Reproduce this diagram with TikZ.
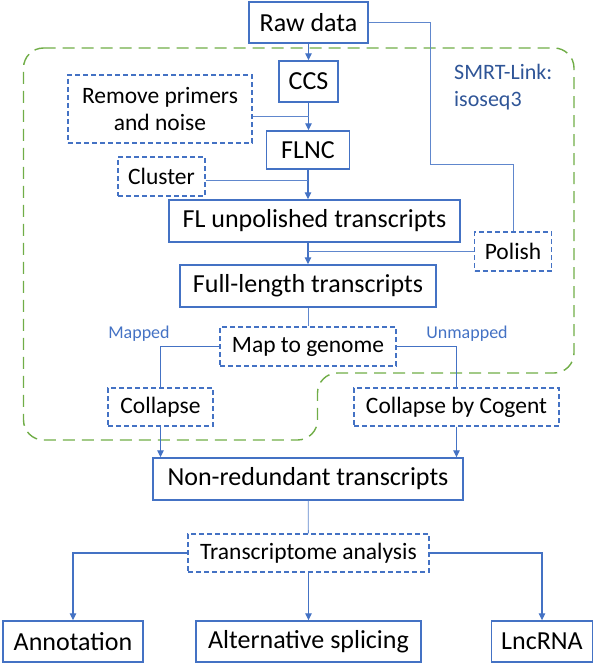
\documentclass[tikz,border=0pt]{standalone}
\usepackage{fontspec}
\setmainfont{Carlito}
\usetikzlibrary{arrows.meta}

\definecolor{boxblue}{RGB}{68,114,196}
\definecolor{smrtgreen}{RGB}{112,173,71}
\definecolor{smrtblue}{RGB}{47,85,151}

\begin{document}
\begin{tikzpicture}[x=1bp, y=-1bp, >={Triangle[length=7bp,width=6.5bp]},
	solidbox/.style={draw=boxblue, line width=1.4bp, rectangle, inner sep=0pt, font=\fontsize{26bp}{30bp}\selectfont},
	dashbox/.style={draw=boxblue, line width=1.2bp, dash pattern=on 5bp off 3bp, rectangle, inner sep=0pt, align=center, font=\fontsize{23.5bp}{27bp}\selectfont},
	link/.style={draw=boxblue, line width=1.1bp},
	thinlink/.style={draw=boxblue!85, line width=0.8bp},
	tag/.style={text=boxblue, inner sep=0pt, font=\fontsize{18bp}{21bp}\selectfont},
	smrtframe/.style={draw=smrtgreen, line width=1.4bp, dash pattern=on 12bp off 7bp, rounded corners=20bp}]

	\useasboundingbox (0,0) rectangle (595,665);

	% SMRT-Link frame
	\draw[smrtframe] (23.5,48) -- (574,48) -- (574,373) -- (317.5,373) -- (317.5,440) -- (23.5,440) -- cycle;
	\node[text=smrtblue, inner sep=0pt, anchor=north west, align=left, font=\fontsize{22bp}{27bp}\selectfont] (smrt) at (454,64) {SMRT-Link:\\isoseq3};

	\node[solidbox, minimum width=119bp, minimum height=41bp] (raw) at (308.5,22.5) {Raw data};
	\node[solidbox, minimum width=59bp, minimum height=41bp] (ccs) at (308.5,81.5) {CCS};
	\node[dashbox, minimum width=184bp, minimum height=68bp] (remove) at (160,109) {Remove primers\\and noise};
	\node[solidbox, minimum width=83bp, minimum height=38bp] (flnc) at (308,150) {FLNC};
	\node[dashbox, minimum width=87bp, minimum height=39bp] (cluster) at (161.5,176.5) {Cluster};
	\node[solidbox, minimum width=291bp, minimum height=42bp] (flu) at (314.5,221) {FL unpolished transcripts};
	\node[dashbox, minimum width=77bp, minimum height=39bp] (polish) at (513,251.5) {Polish};
	\node[solidbox, minimum width=256bp, minimum height=42bp] (full) at (308,286) {Full-length transcripts};
	\node[dashbox, minimum width=176bp, minimum height=39bp] (map) at (308,346.5) {Map to genome};
	\node[tag] (mapped) at (139,334) {Mapped};
	\node[tag] (unmapped) at (467,334) {Unmapped};
	\node[dashbox, minimum width=105bp, minimum height=38bp] (collapse) at (160.5,407) {Collapse};
	\node[dashbox, minimum width=205bp, minimum height=38bp] (cogent) at (456.5,407) {Collapse by Cogent};
	\node[solidbox, minimum width=310bp, minimum height=42bp] (nonred) at (308,479) {Non-redundant transcripts};
	\node[dashbox, minimum width=241bp, minimum height=38bp] (trans) at (308.5,553) {Transcriptome analysis};
	\node[solidbox, minimum width=140bp, minimum height=41bp] (annot) at (73,641.5) {Annotation};
	\node[solidbox, minimum width=225bp, minimum height=41bp] (alt) at (308.5,641.5) {Alternative splicing};
	\node[solidbox, minimum width=101bp, minimum height=41bp] (lnc) at (542,641.5) {LncRNA};

	\coordinate (rawbend) at (430,164);
	\coordinate (rm) at ([yshift=-7bp]remove.east);
	\coordinate (cl) at ([yshift=-3.5bp]cluster.east);

	\draw[link, ->] (raw) -- (ccs);
	\draw[link, ->] (ccs.south) -- (ccs.south |- flnc.north);
	\draw[thinlink] (rm) -- (rm -| ccs.south);
	\draw[link, ->] (flnc.south) -- (flnc.south |- flu.north);
	\draw[thinlink] (cl) -- (cl -| flnc.south);
	\draw[link, ->] (flnc.south |- flu.south) -- (flnc.south |- full.north);
	\draw[thinlink] (polish.west) -- (polish.west -| full.north);
	\draw[thinlink] (raw.east) -| (rawbend) -| (polish.north);
	\draw[thinlink] (full) -- (map);
	\draw[link] (map.west) -| (collapse.north);
	\draw[link] (map.east) -| (cogent.north);
	\draw[link, ->] (collapse.south) -- (collapse.south |- nonred.north);
	\draw[link, ->] (cogent.south) -- (cogent.south |- nonred.north);
	\draw[thinlink] (nonred) -- (trans);
	\draw[link, ->] (trans.west) -| (annot.north);
	\draw[link, ->] (trans) -- (alt);
	\draw[link, ->] (trans.east) -| (lnc.north);
\end{tikzpicture}
\end{document}
